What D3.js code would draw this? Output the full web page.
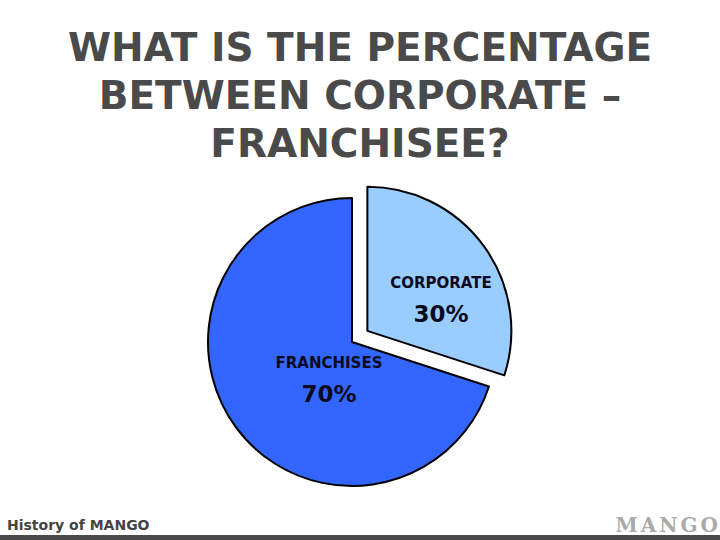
<!DOCTYPE html>
<html>
<head>
<meta charset="utf-8">
<script src="https://cdnjs.cloudflare.com/ajax/libs/d3/7.8.5/d3.min.js"></script>
<style>
  body { margin: 0; background: #fff; }
  svg { display: block; }
</style>
</head>
<body>
<div id="chart"></div>
<script>
// data
var categories = ["CORPORATE", "FRANCHISES"]
var values = [30, 70]
var labels = ["30%", "70%"]
var titleLines = ["WHAT IS THE PERCENTAGE", "BETWEEN CORPORATE \u2013", "FRANCHISEE?"]

var width = 720, height = 540
var svg = d3.select("#chart").append("svg")
  .attr("width", width)
  .attr("height", height)

// title
svg.append("g").selectAll("text").data(titleLines)
  .enter().append("text")
  .attr("x", 360)
  .attr("y", function (d, i) { return 61 + i * 48 })
  .attr("text-anchor", "middle")
  .style("font-family", "DejaVu Sans")
  .style("font-weight", "bold")
  .style("font-size", "39px")
  .style("fill", "#4a4a4a")
  .text(function (d) { return d })

var cx = 352, cy = 342, r = 144, explode = 19

var pie = d3.pie().sort(null).value(function (d) { return d })
var arcs = pie(values)
var arc = d3.arc().innerRadius(0).outerRadius(r)
var colors = d3.scaleOrdinal().domain(categories).range(["#99ccff", "#3366ff"])

// label placement tweaks (relative to pie centre)
var labelPos = [[89, -40], [-23, 40]]

var g = svg.append("g").attr("transform", "translate(" + cx + "," + cy + ")")

var slices = g.selectAll("g.slice").data(arcs)
  .enter().append("g")
  .attr("class", "slice")
  .attr("transform", function (d, i) {
    if (i !== 0) return null
    var a = (d.startAngle + d.endAngle) / 2
    return "translate(" + (Math.sin(a) * explode) + "," + (-Math.cos(a) * explode) + ")"
  })

slices.append("path")
  .attr("d", arc)
  .style("fill", function (d, i) { return colors(categories[i]) })
  .style("stroke", "#000")
  .style("stroke-width", 2)
  .style("stroke-linejoin", "round")

slices.each(function (d, i) {
  var s = d3.select(this)
  var a = (d.startAngle + d.endAngle) / 2
  var off = i === 0 ? [Math.sin(a) * explode, -Math.cos(a) * explode] : [0, 0]
  var lx = labelPos[i][0] - off[0], ly = labelPos[i][1] - off[1]
  s.append("text")
    .attr("x", lx)
    .attr("y", ly - 14)
    .attr("text-anchor", "middle")
    .style("font-family", "DejaVu Sans")
    .style("font-weight", "bold")
    .style("font-size", "15px")
    .style("fill", "#0a0a1e")
    .text(categories[i])
  s.append("text")
    .attr("x", lx)
    .attr("y", ly + 20)
    .attr("text-anchor", "middle")
    .style("font-family", "DejaVu Sans")
    .style("font-weight", "bold")
    .style("font-size", "23px")
    .style("fill", "#0a0a1e")
    .text(labels[i])
})

// footer
svg.append("rect")
  .attr("x", 0).attr("y", 535)
  .attr("width", width).attr("height", 5)
  .style("fill", "#4a4a4a")

svg.append("text")
  .attr("x", 7).attr("y", 530)
  .style("font-family", "DejaVu Sans")
  .style("font-weight", "bold")
  .style("font-size", "14px")
  .style("fill", "#444")
  .text("History of MANGO")

svg.append("text")
  .attr("x", 721).attr("y", 532)
  .attr("text-anchor", "end")
  .style("font-family", "DejaVu Serif")
  .style("font-weight", "bold")
  .style("font-size", "20px")
  .style("letter-spacing", "3px")
  .style("fill", "#aaaaaa")
  .text("MANGO")
</script>
</body>
</html>
